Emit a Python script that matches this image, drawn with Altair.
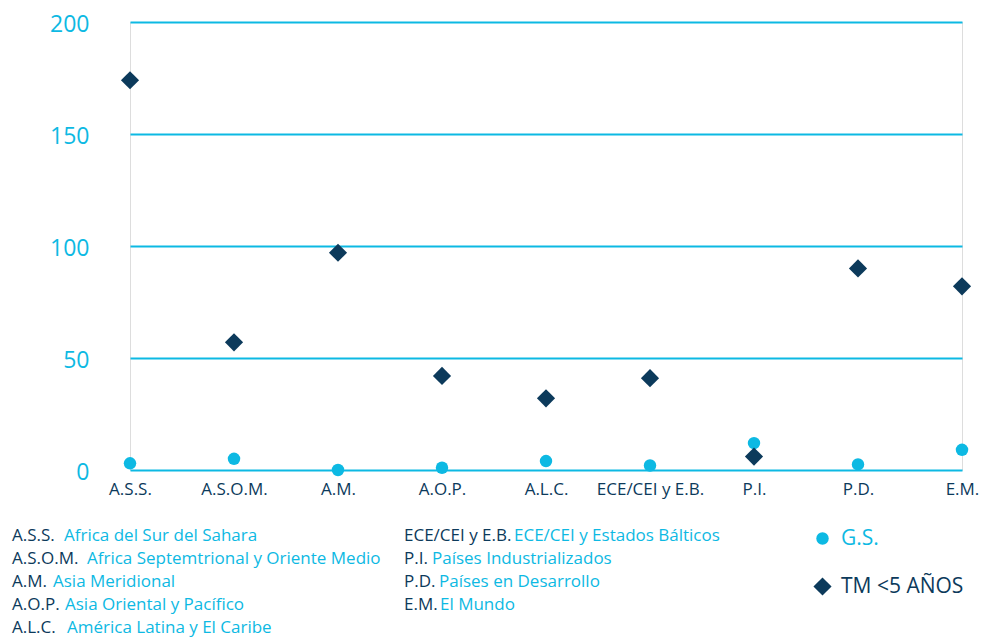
import altair as alt
import pandas as pd

categories = ["A.S.S.", "A.S.O.M.", "A.M.", "A.O.P.", "A.L.C.",
              "ECE/CEI y E.B.", "P.I.", "P.D.", "E.M."]
gs_values = [3, 5, 0, 1, 4, 2, 12, 2.5, 9]
tm_values = [174, 57, 97, 42, 32, 41, 6, 90, 82]
series_names = ["G.S.", "TM <5 AÑOS"]

gloss_abbr = ["A.S.S.", "A.S.O.M.", "A.M.", "A.O.P.", "A.L.C.",
              "ECE/CEI y E.B.", "P.I.", "P.D.", "E.M."]
gloss_name = ["Africa del Sur del Sahara", "Africa Septemtrional y Oriente Medio",
              "Asia Meridional", "Asia Oriental y Pacífico", "América Latina y El Caribe",
              "ECE/CEI y Estados Bálticos", "Países Industrializados",
              "Países en Desarrollo", "El Mundo"]

CYAN = "#0DB9E3"
NAVY = "#0C3A5B"
FONT = "Open Sans"

rows = []
for c, v in zip(categories, gs_values):
    rows.append({"cat": c, "serie": series_names[0], "val": v})
for c, v in zip(categories, tm_values):
    rows.append({"cat": c, "serie": series_names[1], "val": v})
df = pd.DataFrame(rows)

# layout of glossary (pixels relative to plot origin)
abbr_x = [-118, -118, -118, -118, -118, 274, 274, 274, 274]
name_x = [-66, -43, -77, -65, -63, 384, 302, 309, 310]
row_y = [514, 537, 560, 583, 606, 514, 537, 560, 583]
gloss = pd.DataFrame({"abbr": gloss_abbr, "name": gloss_name,
                      "ax": abbr_x, "nx": name_x, "py": row_y})

points = alt.Chart(df).mark_point(filled=True, opacity=1).encode(
    x=alt.X("cat:N", sort=categories, title=None,
            scale=alt.Scale(type="point", padding=0),
            axis=alt.Axis(labelAngle=0, labelColor=NAVY, labelFontSize=17, labelFont=FONT,
                          ticks=False, domain=False, grid=False, labelPadding=11)),
    y=alt.Y("val:Q", title=None,
            scale=alt.Scale(domain=[0, 200], nice=False),
            axis=alt.Axis(values=[0, 50, 100, 150, 200], labelColor=CYAN, labelFontSize=23,
                          labelFont=FONT, ticks=False, domain=False, gridColor=CYAN,
                          gridWidth=2, gridOpacity=1, labelPadding=41, labelOffset=2)),
    color=alt.Color("serie:N", sort=series_names,
                    scale=alt.Scale(domain=series_names, range=[CYAN, NAVY]),
                    legend=alt.Legend(title=None, orient="none", legendX=682, legendY=506,
                                      labelFontSize=21, labelFont=FONT, symbolSize=230,
                                      rowPadding=26, labelOffset=8,
                                      labelColor=alt.ExprRef("datum.label == 'G.S.' ? '" + CYAN + "' : '" + NAVY + "'"))),
    shape=alt.Shape("serie:N", sort=series_names,
                    scale=alt.Scale(domain=series_names, range=["circle", "diamond"]),
                    legend=None),
    size=alt.Size("serie:N", sort=series_names,
                  scale=alt.Scale(domain=series_names, range=[155, 330]),
                  legend=None),
    order=alt.Order("serie:N"),
)

abbr_text = alt.Chart(gloss).mark_text(align="left", baseline="middle", fontSize=17,
                                       font=FONT, color=NAVY).encode(
    x=alt.X("ax:Q", scale=None, axis=None),
    y=alt.Y("py:Q", scale=None, axis=None),
    text="abbr:N",
)
name_text = alt.Chart(gloss).mark_text(align="left", baseline="middle", fontSize=17,
                                       font=FONT, color=CYAN).encode(
    x=alt.X("nx:Q", scale=None, axis=None),
    y=alt.Y("py:Q", scale=None, axis=None),
    text="name:N",
)

chart = alt.layer(points, abbr_text, name_text).resolve_scale(
    x="independent", y="independent"
).properties(
    width=832, height=448,
    autosize=alt.AutoSizeParams(type="none"),
    padding={"left": 122, "top": 14, "right": 20, "bottom": 172},
).configure_view(stroke=CYAN, strokeWidth=2).configure(background="white")

chart.save("out.html", embed_options={"renderer": "svg", "actions": False})
